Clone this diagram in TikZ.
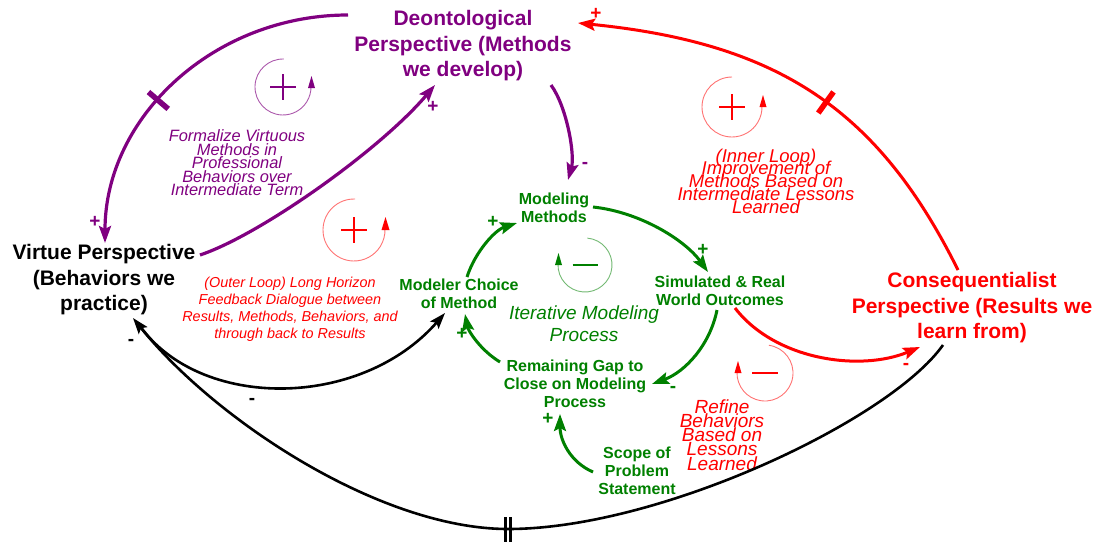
\documentclass[tikz,border=0pt]{standalone}
\usepackage{fontspec}
\setmainfont{Liberation Sans}
\usetikzlibrary{arrows.meta,decorations.markings,calc}
\definecolor{cpurple}{RGB}{128,0,128}
\definecolor{cred}{RGB}{255,0,0}
\definecolor{cgreen}{RGB}{0,128,0}
\newcommand\mytightlines{\lineskiplimit=-50pt\relax}
\begin{document}
\begin{tikzpicture}[x=1pt,y=-1pt,
  pers/.style={font=\bfseries\fontsize{21}{25.5}\selectfont, align=center, inner sep=0pt},
  gnode/.style={font=\bfseries\fontsize{16}{18}\selectfont, align=center, inner sep=0pt, text=cgreen},
  sgn/.style={font=\bfseries\fontsize{19}{19}\selectfont, inner sep=0pt},
  note/.style={align=center, inner sep=0pt},
  bigtip/.style={-{Stealth[length=17pt,width=12pt,inset=3pt]}},
  pcon/.style={draw=cpurple, line width=3.2pt, bigtip},
  rcon/.style={draw=cred, line width=3pt, bigtip},
  gcon/.style={draw=cgreen, line width=3pt, bigtip},
  kcon/.style={draw=black, line width=2.6pt, -{Stealth[length=16pt,width=11pt,inset=3pt]}},
  delaybar/.style={postaction={decorate},decoration={markings, mark=at position #1 with {\draw[-,line width=5.5pt] (0pt,-13pt) -- (0pt,13pt);}}},
  loopc/.style={line width=0.9pt},
  loopsign/.style={line width=2pt}
]
\useasboundingbox (0,0) rectangle (1098,544);

% ---------- main nodes ----------
\node[pers, text=cpurple] (deon) at (463,46) {Deontological\\Perspective (Methods\\we develop)};
\node[pers, text=black] (virtue) at (104,280) {Virtue Perspective\\(Behaviors we\\practice)};
\node[pers, text=cred] (conseq) at (972,308) {Consequentialist\\Perspective (Results we\\learn from)};

\node[gnode] (mm) at (554,208) {Modeling\\Methods};
\node[gnode] (mc) at (459,294) {Modeler Choice\\of Method};
\node[gnode] (sim) at (720,291) {Simulated \& Real\\World Outcomes};
\node[gnode] (gap) at (575,384) {Remaining Gap to\\Close on Modeling\\Process};
\node[gnode] (scope) at (637,471) {Scope of\\Problem\\Statement};

% ---------- notes ----------
\node[note, text=cgreen, font=\itshape\fontsize{19}{22}\selectfont] (iter) at (584,324) {Iterative Modeling\\Process};
\node[note, text=cpurple, font=\itshape\fontsize{16.4}{13.5}\selectfont\mytightlines] (formal) at (237,163) {Formalize Virtuous\\Methods in\\Professional\\Behaviors over\\Intermediate Term};
\node[note, text=cred, font=\itshape\fontsize{14.4}{17}\selectfont\mytightlines] (outer) at (290,309) {(Outer Loop) Long Horizon\\Feedback Dialogue between\\Results, Methods, Behaviors, and\\through back to Results};
\node[note, text=cred, font=\itshape\fontsize{18.5}{12.7}\selectfont\mytightlines] (inner) at (766,181) {(Inner Loop)\\Improvement of\\Methods Based on\\Intermediate Lessons\\Learned};
\node[note, text=cred, font=\itshape\fontsize{19}{14.2}\selectfont\mytightlines] (refine) at (722,435) {Refine\\Behaviors\\Based on\\Lessons\\Learned};

% ---------- connectors ----------
\draw[pcon, delaybar=0.58] ([shift={(-115,-31)}]deon.center) .. controls (214,15) and (105,117) .. ([shift={(1,-37)}]virtue.center);
\draw[pcon] ([shift={(96,-25)}]virtue.center) .. controls (260,235) and (380,150) .. ([shift={(-28,39)}]deon.center);
\draw[pcon] ([shift={(88,39)}]deon.center) .. controls (567,107) and (575,155) .. ([shift={(14,-28)}]mm.center);

\draw[rcon, delaybar=0.45] ([shift={(-14,-38)}]conseq.center) .. controls (878,109) and (778,43) .. ([shift={(115,-23)}]deon.center);
\draw[rcon] ([shift={(15,17)}]sim.center) .. controls (775,360) and (860,372) .. ([shift={(-52,39)}]conseq.center);

\coordinate (bot) at (508,529);
\draw[kcon] ([shift={(-29,37)}]conseq.center) .. controls (890,420) and (660,529) .. (bot) .. controls (380,529) and (215,420) .. ([shift={(29,38)}]virtue.center);
\draw[black, line width=2.5pt] ([shift={(-2.5,-12)}]bot) -- ([shift={(-2.5,13)}]bot);
\draw[black, line width=2.5pt] ([shift={(2.5,-12)}]bot) -- ([shift={(2.5,13)}]bot);
\draw[kcon] ([shift={(36,46)}]virtue.center) .. controls (200,410) and (360,410) .. ([shift={(-14,19)}]mc.center);

\draw[gcon] ([shift={(8,-17)}]mc.center) .. controls (475,252) and (495,230) .. ([shift={(-37,15)}]mm.center);
\draw[gcon] ([shift={(39,-1)}]mm.center) .. controls (640,212) and (685,240) .. ([shift={(-12,-19)}]sim.center);
\draw[gcon] ([shift={(-3,19)}]sim.center) .. controls (710,345) and (685,372) .. ([shift={(77,0)}]gap.center);
\draw[gcon] ([shift={(-75,-22)}]gap.center) .. controls (480,350) and (468,330) .. ([shift={(6,20)}]mc.center);
\draw[gcon] ([shift={(-44,1)}]scope.center) .. controls (570,462) and (560,440) .. ([shift={(-15,30)}]gap.center);

% ---------- polarity signs ----------
\node[sgn, text=cpurple] (s1) at (95,222) {+};
\node[sgn, text=cpurple] (s2) at (433,107) {+};
\node[sgn, text=cpurple] (s3) at (585,165) {-};
\node[sgn, text=cred] (s4) at (596,14) {+};
\node[sgn, text=cred] (s5) at (906,366) {-};
\node[sgn, text=black] (s6) at (131,342) {-};
\node[sgn, text=black] (s7) at (252,401) {-};
\node[sgn, text=cgreen] (s8) at (493,222) {+};
\node[sgn, text=cgreen] (s9) at (703,250) {+};
\node[sgn, text=cgreen] (s10) at (673,389) {-};
\node[sgn, text=cgreen] (s11) at (462,334) {+};
\node[sgn, text=cgreen] (s12) at (548,419) {+};

% ---------- loop symbols ----------
\coordinate (lp1) at (283,87);
\draw[loopc, draw=cpurple!65] ([shift={(-88:28)}]lp1) arc[start angle=-88, end angle=-362, radius=28];
\fill[cpurple] ([shift={(28.5,-11)}]lp1) -- ([shift={(25,1)}]lp1) -- ([shift={(32,1)}]lp1) -- cycle;
\draw[loopsign, cpurple] ([shift={(-13,0)}]lp1) -- ([shift={(13,0)}]lp1);
\draw[loopsign, cpurple] ([shift={(0,-13)}]lp1) -- ([shift={(0,13)}]lp1);

\coordinate (lp2) at (354,230);
\draw[loopc, draw=cred!55] ([shift={(-88:31)}]lp2) arc[start angle=-88, end angle=-362, radius=31];
\fill[cred] ([shift={(31.5,-13)}]lp2) -- ([shift={(27.5,0)}]lp2) -- ([shift={(35.5,0)}]lp2) -- cycle;
\draw[loopsign, cred] ([shift={(-13,0)}]lp2) -- ([shift={(13,0)}]lp2);
\draw[loopsign, cred] ([shift={(0,-13)}]lp2) -- ([shift={(0,13)}]lp2);

\coordinate (lp3) at (732,107);
\draw[loopc, draw=cred!55] ([shift={(-90:30)}]lp3) arc[start angle=-90, end angle=-362, radius=30];
\fill[cred] ([shift={(31,-12)}]lp3) -- ([shift={(27.5,0)}]lp3) -- ([shift={(34.5,0)}]lp3) -- cycle;
\draw[loopsign, cred] ([shift={(-13,0)}]lp3) -- ([shift={(13,0)}]lp3);
\draw[loopsign, cred] ([shift={(0,-13)}]lp3) -- ([shift={(0,13)}]lp3);

\coordinate (lp4) at (585,265);
\draw[loopc, draw=cgreen!55] ([shift={(-85:27)}]lp4) arc[start angle=-85, end angle=182, radius=27];
\fill[cgreen] ([shift={(-26.5,-12)}]lp4) -- ([shift={(-30,0)}]lp4) -- ([shift={(-23,0)}]lp4) -- cycle;
\draw[loopsign, cgreen, line width=2.6pt] ([shift={(-12.5,0)}]lp4) -- ([shift={(12.5,0)}]lp4);

\coordinate (lp5) at (765,373);
\draw[loopc, draw=cred!55] ([shift={(-82:28)}]lp5) arc[start angle=-82, end angle=182, radius=28];
\fill[cred] ([shift={(-27,-12)}]lp5) -- ([shift={(-30.5,0)}]lp5) -- ([shift={(-23.5,0)}]lp5) -- cycle;
\draw[loopsign, cred] ([shift={(-13,0)}]lp5) -- ([shift={(13,0)}]lp5);
\end{tikzpicture}
\end{document}
